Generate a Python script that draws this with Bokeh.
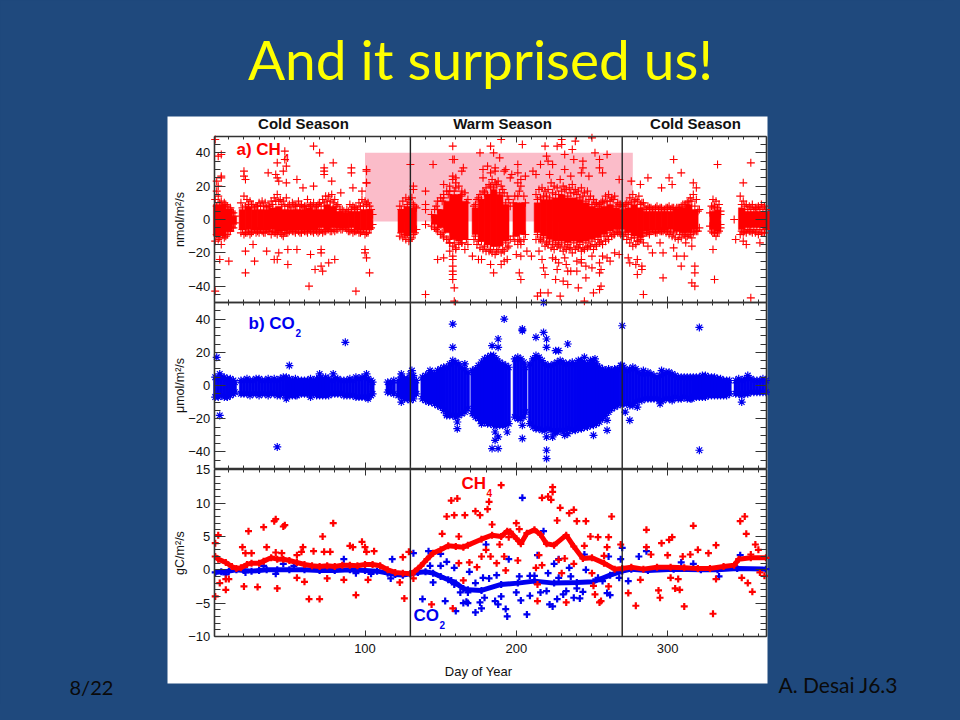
from bokeh.plotting import figure
from bokeh.models import (Range1d, LinearAxis, FixedTicker, CustomJSTickFormatter,
                          GlobalInlineStyleSheet)
from bokeh.core.properties import value
from bokeh.embed import file_html
from bokeh.resources import INLINE

# ---- tick labels / texts
X_MAJOR = [100, 200, 300]
X_MINOR = list(range(10, 370, 10))
A_MAJOR = [-40, -20, 0, 20, 40]
B_MAJOR = [-40, -20, 0, 20, 40]
AB_MINOR = list(range(-50, 55, 5))
C_MAJOR = [-10, -5, 0, 5, 10, 15]
C_MINOR = list(range(-10, 16))
SEASON_SPLIT = [130, 270]
PINK_DAYS = [100, 277]
PINK_VALS = [-1.2, 40]

# ---- panel a: solid core of the cloud
A_CORE_DAY = [2,6,10,13,19,23,27,31,35,39,43,47,51,55,59,63,67,71,75,79,83,87,91,95,99,103,
  124,128,132,146,150,154,158,162,166,173,177,181,185,189,193,200,204,
  214,218,222,226,230,234,238,242,246,250,254,258,262,266,270,274,278,282,286,290,294,298,302,306,310,314,318,
  330,333,349,353,357,361,365]
A_CORE_HI = [9,9,6,2,6,8,6,6,6,7,8,6,6,6,6,7,6,6,9,8,5,4,5,5,6,6,
  6,8,7,3,6,11,15,15,11,7,12,15,18,15,9,10,10,
  10,12,12,13,15,13,13,12,10,8,7,8,9,7,6,7,9,7,5,5,5,5,5,6,7,9,6,
  5,6,7,5,5,5,5]
A_CORE_LO = [-10,-10,-7,-3,-6,-6,-6,-6,-6,-6,-7,-7,-6,-6,-6,-6,-6,-5,-6,-5,-5,-5,-5,-6,-6,-6,
  -8,-10,-8,-3,-5,-8,-12,-13,-12,-9,-13,-15,-16,-16,-13,-10,-9,
  -8,-10,-12,-13,-13,-14,-13,-14,-13,-12,-11,-9,-7,-6,-6,-8,-10,-11,-7,-6,-6,-6,-6,-7,-8,-8,-6,
  -6,-7,-6,-5,-5,-5,-6]

# ---- panel a: points at the rim of the cloud
A_DAY = [1,3,5,7,9,11,13,14,
  18,20,22,24,26,28,30,32,34,36,38,40,42,44,46,48,50,52,54,56,58,60,62,64,66,68,70,72,74,76,78,80,82,84,86,88,90,92,94,96,98,100,102,104,105,
  123,125,127,129,131,133,
  144,146,148,150,152,154,156,158,160,162,164,166,168,
  172,174,176,178,180,182,184,186,188,190,192,194,196,
  199,201,203,205,
  213,215,217,219,221,223,225,227,229,231,233,235,237,239,241,243,245,247,249,251,253,255,257,259,261,263,265,267,269,271,273,275,277,279,281,283,285,287,289,291,293,295,297,299,301,303,305,307,309,311,313,315,317,319,321,
  328,330,332,334,335,
  348,350,352,354,356,358,360,362,364]
A_HI = [12,14,11,10,8,7,4,2,
  10,14,12,11,9,8,10,11,10,8,11,13,15,12,11,13,9,10,8,11,9,8,12,9,10,8,10,12,14,14,15,12,9,6,5,6,9,8,7,10,12,11,10,6,3,
  8,11,13,12,13,8,
  3,6,11,13,15,17,20,24,22,20,17,16,12,
  8,12,15,17,19,21,24,22,23,20,16,14,8,
  14,22,24,14,
  15,18,19,17,18,22,20,19,24,20,18,19,21,18,17,19,16,17,14,12,10,9,11,14,15,13,14,10,9,8,10,13,15,12,14,10,7,8,7,6,8,7,6,7,8,7,6,7,8,9,10,13,15,12,6,
  4,7,11,9,3,
  14,11,9,8,9,7,8,9,8]
A_LO = [-13,-12,-15,-11,-9,-7,-5,-2,
  -8,-9,-8,-9,-7,-8,-8,-7,-8,-7,-9,-8,-9,-8,-10,-8,-7,-7,-8,-7,-8,-7,-8,-7,-8,-7,-7,-8,-7,-6,-7,-7,-6,-6,-5,-6,-7,-8,-7,-8,-7,-9,-8,-5,-3,
  -10,-11,-12,-13,-11,-8,
  -4,-5,-7,-9,-11,-12,-14,-16,-18,-15,-14,-18,-15,
  -12,-15,-17,-18,-19,-19,-20,-21,-18,-20,-19,-17,-12,
  -13,-15,-15,-12,
  -12,-12,-13,-16,-15,-17,-18,-16,-17,-19,-18,-17,-20,-18,-17,-19,-18,-17,-16,-18,-16,-14,-15,-13,-12,-10,-9,-8,-9,-10,-12,-14,-16,-15,-13,-10,-8,-8,-7,-7,-8,-7,-7,-8,-9,-10,-11,-12,-11,-9,-10,-9,-8,-7,-5,
  -4,-8,-10,-7,-3,
  -9,-8,-8,-7,-8,-8,-9,-8,-8]

# ---- panel a: points between core and rim
A_MID_DAY = [2,6,10,12,19,23,27,31,35,39,43,47,51,55,59,63,67,71,75,79,83,87,91,95,99,103,124,128,132,147,151,155,159,163,167,173,177,181,185,189,193,198,202,206,
  214,218,222,226,230,234,238,242,246,250,254,258,262,266,270,274,278,282,286,290,294,298,302,306,310,314,318,329,333,349,353,357,361,365]
A_MID_UP = [8,8,6,4,7,9,7,8,7,9,11,8,7,8,7,8,7,8,11,10,6,4,6,6,8,8,6,9,9,8,11,15,17,14,10,9,12,15,19,16,10,10,17,10,
  12,14,13,15,17,14,16,13,11,9,8,10,11,8,8,9,11,9,6,6,6,6,6,7,9,11,8,8,7,9,6,6,6,6]
A_MID_DN = [-9,-9,-7,-4,-6,-7,-6,-6,-6,-7,-7,-8,-6,-6,-6,-6,-6,-6,-6,-6,-5,-5,-6,-6,-6,-6,-8,-9,-9,-6,-8,-12,-14,-12,-12,-10,-13,-15,-16,-15,-14,-10,-12,-9,
  -9,-11,-13,-14,-14,-15,-14,-15,-14,-13,-12,-10,-8,-7,-7,-9,-11,-12,-8,-6,-6,-6,-7,-7,-8,-9,-7,-7,-8,-7,-6,-6,-6,-6]
A_IN_DAY = [4,8,12,21,25,29,33,37,41,45,49,53,57,61,65,69,73,77,81,85,89,93,97,101,126,130,134,148,152,156,160,164,175,179,183,187,191,195,201,203,
  216,220,224,228,232,236,240,244,248,252,256,260,264,268,272,276,280,284,288,292,296,300,304,308,312,316,320,331,335,351,355,359,363]
A_IN_UP = [10,9,5,8,9,8,8,8,11,9,8,9,8,8,8,9,10,11,8,6,5,7,8,9,6,10,7,6,13,17,19,15,13,16,20,21,18,12,14,20,
  13,14,16,15,18,16,15,14,12,10,10,11,12,9,9,10,11,10,7,7,7,7,7,7,9,11,5,8,5,8,7,7,7]
A_IN_DN = [-11,-10,-5,-8,-8,-7,-8,-7,-8,-9,-8,-7,-8,-7,-7,-8,-7,-7,-6,-6,-7,-7,-8,-8,-9,-12,-6,-5,-10,-14,-17,-14,-13,-16,-18,-19,-18,-16,-12,-13,
  -12,-14,-15,-15,-16,-17,-16,-17,-16,-15,-13,-10,-9,-8,-8,-11,-13,-14,-9,-8,-7,-7,-8,-9,-10,-11,-7,-8,-5,-7,-7,-7,-8]

# ---- panel a: scattered single points
A_OUT_DAY = [1,3,5,5,5,2,3,2,20,21,20,36,42,47,47,48,46,41,42,43,55,48,59,66,70,79,73,73,73,78,66,91,91,101,101,101,101,92,98,84,
  130,132,132,145,140,140,140,140,158,158,159,158,160,164,165,152,
  21,27,10,4,1,63,67,72,71,76,80,94,103,101,42,40,49,35,43,49,55,64,71,71,100,100,21,26,140,159,159,158,158,158,158,158,158,148,152,156,
  190,204,219,230,230,239,227,250,237,232,252,260,220,176,183,185,189,181,201,221,244,255,238,224,244,255,232,201,213,222,248,257,178,236,276,287,301,304,309,333,355,296,317,319,330,303,282,350,344,
  193,186,197,206,211,216,243,268,183,196,178,186,192,171,
  185,190,177,194,203,202,203,216,214,221,229,226,231,234,241,246,245,251,256,255,218,219,227,236,240,234,233,243,250,246,255,256,255,262,268,260,257,215,217,224,232,284,280,283,297,316,318,318,318,309,331,330,355,274,280,295,297,306,311,304,352,361,
  240,226,250,210,228,243,265,183,192,175,200,207,275,279,283,287,290,312,316,345,350]
A_OUT_VAL = [48,38,39,26,25,23,20,17,29,24,26,28,34,41,36,32,29,27,25,23,24,22,19,44,40,34,31,29,27,23,20,31,28,30,29,22,22,19,17,16,
  33,20,18,33,17,9,6,-3,44,36,36,26,25,29,31,21,
  -32,-25,-25,-24,-43,-40,-30,-31,-28,-26,-24,-43,-32,-23,-24,-24,-27,-19,-20,-18,-18,-21,-20,-18,-18,-20,-19,-15,-45,-41,-49,-36,-33,-31,-28,-24,-22,-24,-23,-19,
  48,45,44,48,45,47,44,49,42,39,40,39,38,40,44,40,37,32,33,35,35,36,36,33,31,31,30,28,27,27,26,28,25,26,23,25,25,36,28,33,34,19,22,19,12,21,21,22,0,
  30,29,27,26,29,33,28,24,28,25,30,31,29,-22,
  -32,-27,-24,-24,-36,-32,-22,-44,-46,-44,-46,-36,-37,-39,-41,-35,-49,-44,-40,-42,-29,-33,-30,-31,-31,-31,-27,-26,-29,-28,-26,-30,-32,-25,-21,-23,-22,-19,-24,-23,-23,-45,-33,-30,-35,-38,-40,-32,-28,-28,-36,-18,-47,-23,-24,-14,-20,-22,-22,-17,-15,-14,
  -25,-24,-22,-22,-26,-24,-20,-27,-25,-24,-21,-19,-26,-27,-28,-16,-20,-14,-16,-12,-13]

# ---- panel b: dense cloud edges and outliers
B_DAY = [1,3,5,7,9,11,13,14,
  18,20,22,24,26,28,30,32,34,36,38,40,42,44,46,48,50,52,54,56,58,60,62,64,66,68,70,72,74,76,78,80,82,84,86,88,90,92,94,96,98,100,102,104,105,
  115,117,119,
  122,124,126,128,130,132,134,
  138,140,142,144,146,148,150,152,154,156,158,160,162,164,166,168,
  171,173,175,177,179,181,183,185,187,189,191,193,195,
  199,201,203,205,206,
  209,211,213,215,217,219,221,223,225,227,229,231,233,235,237,239,241,243,245,247,249,251,253,255,257,259,261,263,265,267,269,271,273,275,277,279,281,283,285,287,289,291,293,295,297,299,301,303,305,307,309,311,313,315,317,319,321,323,325,327,329,331,333,335,337,339,341,
  345,347,349,351,353,355,357,359,361,363,365]
B_HI = [5,4,5,5,4,4,3,2,
  3,3,4,3,3,4,4,3,3,4,3,4,3,4,5,5,4,3,4,3,3,3,3,4,3,4,4,4,5,4,3,4,4,3,3,3,4,3,5,4,5,5,4,3,2,
  2,2,3,
  3,5,4,4,7,6,3,
  5,6,7,8,7,9,10,11,11,13,15,14,13,11,10,8,
  9,10,12,14,16,17,18,18,16,14,13,12,11,
  16,17,16,14,11,
  13,16,18,17,15,13,12,12,13,14,15,14,13,13,14,13,15,15,14,13,15,15,13,11,10,9,10,9,10,10,12,11,9,10,11,10,8,7,7,8,7,6,5,6,7,8,8,7,6,5,5,5,5,5,5,5,5,6,6,5,5,5,4,4,3,3,3,
  3,4,3,4,6,4,3,3,3,4,3]
B_LO = [-7,-7,-6,-7,-7,-6,-5,-4,
  -5,-5,-5,-6,-5,-5,-6,-5,-5,-6,-5,-5,-6,-6,-5,-6,-6,-6,-6,-5,-5,-5,-5,-5,-5,-6,-6,-6,-6,-6,-5,-5,-5,-5,-6,-6,-6,-6,-7,-7,-7,-7,-7,-6,-5,
  -4,-4,-5,
  -6,-7,-8,-8,-9,-8,-5,
  -8,-9,-10,-10,-11,-12,-13,-15,-17,-18,-18,-19,-18,-17,-16,-14,
  -17,-19,-20,-21,-22,-23,-23,-24,-24,-24,-24,-24,-23,
  -19,-20,-20,-19,-16,
  -23,-25,-26,-26,-27,-27,-26,-27,-28,-28,-27,-28,-27,-26,-27,-27,-26,-26,-25,-25,-24,-24,-23,-22,-20,-18,-16,-14,-13,-12,-11,-11,-11,-12,-12,-10,-9,-9,-8,-8,-8,-8,-8,-9,-9,-8,-8,-8,-7,-8,-8,-7,-8,-8,-7,-7,-7,-7,-7,-6,-6,-6,-6,-6,-6,-6,-5,
  -5,-5,-5,-5,-5,-4,-4,-4,-4,-4,-4]
B_OUT_DAY = [2,4,4,9,50,87,42,48,55,64,70,79,101,102,124,124,131,143,158,158,166,161,161,154,
  192,204,204,188,184,188,218,218,213,220,220,234,226,228,270,321,321,184,188,186,188,186,194,204,204,220,220,220,226,234,251,260,260,272,275,280,295,303,316,349,349,270,177,224,232,245,252,284,296]
B_OUT_VAL = [17,7,-18,-7,12,26,-37,-8,-6,-7,7,7,7,-8,7,-10,9,9,37,23,13,-22,-26,-18,
  40,33,34,28,24,23,50,32,29,28,23,25,21,21,36,35,-39,-38,-38,-33,-31,-28,-28,-32,-24,-39,-44,-31,-28,-29,-30,-27,-21,-16,-21,-13,-11,-9,-8,-10,-6,12,-23,-31,-30,17,16,9,9]

# ---- panel c: running means and single points
C_RED_DAY = [1,3,8,12,15,18,22,25,30,33,38,42,46,50,55,60,65,70,75,80,85,90,95,100,105,110,115,120,125,130,133,137,141,145,150,155,160,165,168,177,184,190,194,196,200,203,207,212,216,220,225,233,238,244,250,258,265,270,276,284,293,302,311,320,328,337,344,347,355,365]
C_RED_VAL = [2,1.6,1.1,.5,.2,.3,.8,1,1,1.3,1.8,1.6,1.6,1.4,1.1,.8,.6,.5,.6,.5,.7,.7,.6,.8,.8,.6,0,-.4,-.5,-.6,-.2,.6,1.6,2.5,3,3.6,3.5,3.4,3.7,4.6,5.2,5,5.8,5.7,4.7,3.9,5.5,6,5.3,3.9,3.7,5.2,3.5,1.7,1.8,1,.1,.2,.4,.1,.4,.4,.3,.2,.2,.5,.7,1.6,1.8,1.8]
C_BLUE_DAY = [1,5,10,15,20,25,30,35,42,50,60,70,80,90,100,108,115,120,125,130,135,140,145,150,155,160,165,168,177,190,201,212,225,240,251,262,270,276,287,304,322,333,346,365]
C_BLUE_VAL = [-.4,-.3,-.2,0,-.1,-.2,-.1,0,0,0,0,-.1,-.1,0,-.1,-.2,-.5,-.7,-.8,-.6,-.4,-.3,-.5,-1,-1.5,-2,-2.8,-3,-3.1,-2.2,-2,-1.7,-2,-1.9,-1.8,-.8,-.2,.1,-.1,.1,0,0,.2,.1]
C_RPT_DAY = [1,3,1,8,4,8,10,23,33,40,41,46,47,79,72,19,21,25,35,41,45,59,58,55,66,73,77,90,92,98,100,101,106,20,29,42,55,60,63,70,75,86,94,102,123,126,129,125,132,144,151,158,154,159,157,161,162,166,162,165,
  190,182,181,173,176,184,200,202,195,189,180,177,183,192,187,201,169,174,193,224,224,221,217,223,229,235,238,227,240,246,263,249,254,261,215,217,213,232,228,238,245,260,258,269,250,230,214,214,233,251,261,252,255,256,
  286,317,351,348,352,296,301,303,286,289,300,320,332,327,310,315,358,360,355,274,279,282,294,295,311,330,305,308,302,307,332,349,353,356,361,364]
C_RPT_VAL = [4,5.2,-4,-3,-2,-1.4,-1.4,5.8,6.4,7.3,7.6,6.5,6.7,7,5,3.4,2.5,2.5,3.4,2.6,2.5,3.4,2.7,2.2,2.8,2.7,2.7,3.6,3.4,4.2,3.4,2.7,2.8,-2.5,-2.6,-2.8,-1.2,-1.8,-4.4,-4.4,-1.3,-1.5,-3.8,-1.5,-1.9,-4.3,2.7,1.9,-1.3,-5.2,5.4,-5.8,8,8.2,10.4,10.7,5,8.2,1,-1.6,
  12.7,10.2,9.1,8.8,8.2,6.8,7,6.1,4.9,3.8,3,2,2,2,1,1.4,1.1,.4,-.1,12.4,11.7,11,10.8,10.5,9.3,8.5,9,7.4,7.3,7.3,8,5,4.9,4.9,2.2,.7,.3,1.7,1.5,.9,3.6,3.4,2.1,3.8,-.5,-.5,-2.2,-4.7,-4.9,-2.4,-2.5,-3.7,-4.9,-4.7,
  6,6.6,8,7.3,5.4,4,4.5,4.9,3.4,2.3,2.2,3,3.7,2.5,2,2.3,3.8,3,2.3,-3.5,-5.4,-1.5,-3.1,-4.2,-5.5,-6.6,-2.8,-3,-1.2,-1.4,-1.4,-1.2,-2,-3.3,-.4,-.9]
C_BPT_DAY = [132,118,86,117,138,142,150,154,150,143,145,153,160,165,167,159,157,159,163,8,21,33,41,46,94,104,53,75,
  204,180,169,218,214,195,245,261,270,281,286,269,228,225,235,246,221,202,209,212,187,178,182,173,168,168,173,177,176,179,186,188,190,193,194,207,203,200,209,216,220,227,222,224,231,233,238,242,244,240,228,236,254,257,260,262,268,274,334,348,317,309]
C_BPT_VAL = [2.5,1.6,1.6,-1.3,-4.4,2.8,2.4,1.2,.6,.6,-1.9,-4.7,-6.2,-5,-4.8,.3,-1.6,-2.2,-3.4,-.7,-.4,.6,-.6,.9,-.5,-.6,.6,.3,
  10.8,3.8,-.3,5.8,2.2,1.6,2.3,2,3.3,2,2.8,1.6,1.6,.9,.3,0,-.5,-1,-.9,-.9,-.8,-1.2,-1.3,-2,-3.4,-5,-6.4,-5.8,-4.9,-4.2,-4.7,-5.2,-4,-5.9,-7,-6.7,-4.6,-3.4,-3.9,-3.4,-3.2,-4.4,-5.2,-5.5,-3.7,-3.2,-4.2,-4.3,-3.3,-2.8,-1.2,-1,-1.2,-1.7,-3.5,-3.8,-1.2,-1.7,-1,2.2,.9,1.1]

# ---- page geometry (the figure sits at the page's top-left corner)
L, R, T, B = 0, 944, 0, 704
DAY_PX = 1.513
def d_at(px): return 100 + (px - 364.5) / DAY_PX
def va_at(py): return (219 - py) / 1.6667
def vb_at(py): return (385 - py) / 1.66
def vc_at(py): return (569.3 - py) / 6.66

BLUE_BG = "#1F497D"
RED = "#FF0000"
BLUE = "#0000F0"
p = figure(width=R - L, height=B - T, output_backend="svg", toolbar_location=None,
           x_range=Range1d(d_at(L), d_at(R)), y_range=Range1d(B, T),
           min_border=0, min_border_left=0, min_border_right=0, min_border_top=0, min_border_bottom=0,
           background_fill_color=BLUE_BG, border_fill_color=BLUE_BG, outline_line_color=None,
           x_axis_type=None, y_axis_type=None)
p.grid.visible = False
p.stylesheets = [GlobalInlineStyleSheet(css="html,body{background:%s;}" % BLUE_BG)]
p.extra_x_ranges = {"px": Range1d(L, R)}
p.extra_y_ranges = {"a": Range1d(va_at(B), va_at(T)), "b": Range1d(vb_at(B), vb_at(T)), "c": Range1d(vc_at(B), vc_at(T))}

PLEFT, PRIGHT = 213.7, 766
TOPS = [136, 302, 469]
BOTS = [302, 468, 636]

# white panel
p.quad(left=[167], right=[767], top=[116], bottom=[683], x_range_name="px",
       fill_color="white", line_color=None)
# pink box
p.quad(left=[PINK_DAYS[0]], right=[PINK_DAYS[1]], bottom=[PINK_VALS[0]], top=[PINK_VALS[1]],
       y_range_name="a", fill_color="#FBBCC9", line_color=None)

# panel a
p.vbar(x=A_CORE_DAY, bottom=A_CORE_LO, top=A_CORE_HI, width=4.4, y_range_name="a", fill_color=RED, line_color=RED, line_width=0.5)
for xs, ys in ((A_DAY, A_HI), (A_DAY, A_LO), (A_MID_DAY, A_MID_UP), (A_MID_DAY, A_MID_DN),
               (A_IN_DAY, A_IN_UP), (A_IN_DAY, A_IN_DN), (A_OUT_DAY, A_OUT_VAL)):
    p.scatter(xs, ys, y_range_name="a", marker="cross", size=8, line_color=RED, line_width=1.1)

# panel b
p.vbar(x=B_DAY, bottom=B_LO, top=B_HI, width=2.2, y_range_name="b", fill_color=BLUE, line_color=BLUE, line_width=0.5)
for ys in (B_HI, B_LO):
    p.scatter(B_DAY, ys, y_range_name="b", marker="asterisk", size=8, line_color=BLUE, line_width=1.2)
p.scatter(B_OUT_DAY, B_OUT_VAL, y_range_name="b", marker="asterisk", size=8, line_color=BLUE, line_width=1.2)

# panel c
p.scatter(C_BPT_DAY, C_BPT_VAL, y_range_name="c", marker="cross", size=7, line_color=BLUE, line_width=2.2)
p.line(C_BLUE_DAY, C_BLUE_VAL, y_range_name="c", line_color=BLUE, line_width=5)
p.scatter(C_BLUE_DAY, C_BLUE_VAL, y_range_name="c", marker="cross", size=7, line_color=BLUE, line_width=2.2)
p.scatter(C_RPT_DAY, C_RPT_VAL, y_range_name="c", marker="cross", size=7, line_color=RED, line_width=2.2)
p.line(C_RED_DAY, C_RED_VAL, y_range_name="c", line_color=RED, line_width=5)
p.scatter(C_RED_DAY, C_RED_VAL, y_range_name="c", marker="cross", size=7, line_color=RED, line_width=2.2)

# season boundaries
p.segment(x0=SEASON_SPLIT, x1=SEASON_SPLIT, y0=[136, 136], y1=[636, 636], line_color="#222222", line_width=1.4)

# axes
blank = CustomJSTickFormatter(code="return ''")
AX = dict(axis_line_color="#333333", axis_line_width=1.6, major_tick_line_color="#333333",
          minor_tick_line_color="#333333", major_tick_out=0, minor_tick_out=0)
def yaxis(name, major, minor, bounds, label):
    left = LinearAxis(fixed_location=d_at(PLEFT), y_range_name=name, bounds=bounds,
                      ticker=FixedTicker(ticks=major, minor_ticks=minor), major_tick_in=11, minor_tick_in=6,
                      major_label_text_font="Liberation Sans", major_label_text_font_size="13px",
                      major_label_text_color="#111111", major_label_standoff=4,
                      axis_label=label, axis_label_text_font="Liberation Sans", axis_label_text_font_style="normal",
                      axis_label_text_font_size="12.5px", axis_label_text_color="#111111", axis_label_standoff=-2, **AX)
    p.add_layout(left, "left")
    right = LinearAxis(fixed_location=d_at(PRIGHT), y_range_name=name, bounds=bounds,
                       ticker=FixedTicker(ticks=major, minor_ticks=minor), major_tick_in=11, minor_tick_in=6,
                       formatter=blank, **AX)
    p.add_layout(right, "right")
yaxis("a", A_MAJOR, AB_MINOR, (-50, 50), "nmol/m²/s")
yaxis("b", B_MAJOR, AB_MINOR, (-50, 50), "μmol/m²/s")
yaxis("c", C_MAJOR, C_MINOR, (-10, 15), "gC/m²/s")

for i, (t, b) in enumerate(zip(TOPS, BOTS)):
    top = LinearAxis(fixed_location=t, bounds=(d_at(PLEFT), d_at(PRIGHT)),
                     ticker=FixedTicker(ticks=X_MAJOR, minor_ticks=X_MINOR), major_tick_in=6, minor_tick_in=3,
                     formatter=blank, **AX)
    p.add_layout(top, "above")
    kw = dict(formatter=blank) if i < 2 else dict(
        major_label_text_font="Liberation Sans", major_label_text_font_size="13px",
        major_label_text_color="#111111", major_label_standoff=7)
    bot = LinearAxis(fixed_location=b, bounds=(d_at(PLEFT), d_at(PRIGHT)),
                     ticker=FixedTicker(ticks=X_MAJOR, minor_ticks=X_MINOR), major_tick_in=6, minor_tick_in=3, **kw, **AX)
    p.add_layout(bot, "below")

# texts (the SVG backend draws "alphabetic" text about 0.4 em below the given y)
def txt(x, y, s, size, color, font="Liberation Sans", style="normal", align="left"):
    p.text(x=[x], y=[y], text=[s], x_range_name="px", text_font=value(font), text_font_size=size,
           text_font_style=style, text_color=color, text_align=align, text_baseline="alphabetic")
for cx, s in [(303, "Cold Season"), (502, "Warm Season"), (695, "Cold Season")]:
    txt(cx, 123, s, "15px", "#111111", style="bold", align="center")
txt(478, 671, "Day of Year", "13px", "#111111", align="center")
txt(236, 149, "a) CH", "17px", RED, style="bold")
txt(283, 157, "4", "10px", RED, style="bold")
txt(248, 323, "b) CO", "17px", BLUE, style="bold")
txt(295, 332, "2", "10px", BLUE, style="bold")
txt(461, 483, "CH", "17px", RED, style="bold")
txt(486, 492, "4", "10px", RED, style="bold")
txt(413, 615, "CO", "17px", BLUE, style="bold")
txt(439, 624, "2", "10px", BLUE, style="bold")
txt(480, 58, "And it surprised us!", "55px", "#FFFF00", font="Lato", align="center")
txt(69, 686, "8/22", "20px", "#0A0A0A", font="Lato")
txt(778, 684, "A. Desai J6.3", "21px", "#0A0A0A", font="Lato")

open("out.html", "w").write(file_html(p, INLINE))
